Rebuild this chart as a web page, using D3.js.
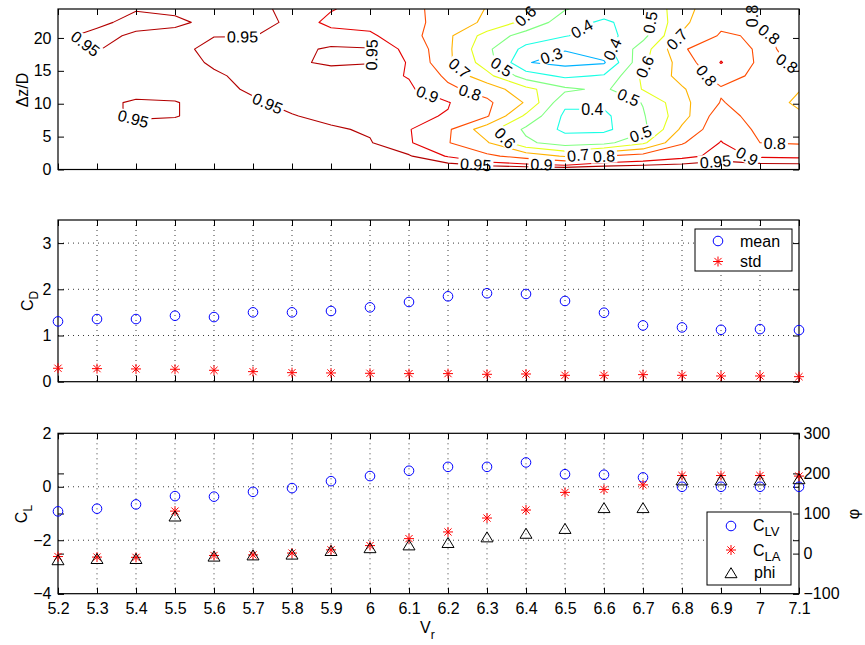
<!DOCTYPE html>
<html><head><meta charset="utf-8">
<script src="https://cdn.jsdelivr.net/npm/d3@7"></script>
<style>
body{margin:0;background:#fff;}
text{font-family:"Liberation Sans",Arial,Helvetica,sans-serif;fill:#000;}
</style></head><body>
<svg id="chart" width="865" height="645"></svg>
<script>
// ---------------- data ----------------
const vr = [5.2,5.3,5.4,5.5,5.6,5.7,5.8,5.9,6.0,6.1,6.2,6.3,6.4,6.5,6.6,6.7,6.8,6.9,7.0,7.1];
const cdMean = [1.305,1.356,1.356,1.428,1.399,1.501,1.501,1.530,1.609,1.725,1.848,1.914,1.899,1.747,1.493,1.218,1.175,1.124,1.138,1.117];
const cdStd  = [0.291,0.283,0.276,0.269,0.247,0.218,0.196,0.189,0.182,0.175,0.175,0.160,0.167,0.138,0.138,0.153,0.138,0.124,0.124,0.109];
const clv = [-0.92,-0.82,-0.66,-0.35,-0.37,-0.19,-0.05,0.21,0.40,0.60,0.745,0.745,0.91,0.47,0.45,0.35,0.0,0.0,0.0,0.0];
const cla = [-2.61,-2.63,-2.64,-0.91,-2.57,-2.55,-2.48,-2.36,-2.20,-1.94,-1.69,-1.17,-0.87,-0.21,-0.10,0.07,0.42,0.42,0.42,0.40];
const phi = [-16,-13,-13,93,-7,-4,-2,7,14,21,27,41,50,62,114,114,183,183,183,186];
// separation rows of the correlation map (dz/D), bottom to top
const dzRows = [0,2.033,4.067,6.1,8.133,10.167,12.2,14.233,16.267,18.3,20.333,22.367,24.4];
// correlation coefficient, one row per dzRows entry, one column per vr entry
const corrGrid = [
 [1,1,1,1,1,1,1,1,1,1,1,1,1,1,1,1,1,1,1,1],
 [0.965,0.965,0.965,0.965,0.965,0.965,0.965,0.965,0.96,0.955,0.895,0.82,0.76,0.69,0.80,0.84,0.88,0.92,0.89,0.885],
 [0.965,0.965,0.965,0.965,0.965,0.965,0.965,0.965,0.953,0.91,0.805,0.71,0.52,0.45,0.47,0.58,0.79,0.905,0.80,0.79],
 [0.965,0.965,0.965,0.965,0.965,0.965,0.958,0.955,0.945,0.905,0.815,0.64,0.48,0.38,0.38,0.47,0.72,0.87,0.78,0.76],
 [0.965,0.96,0.945,0.948,0.965,0.96,0.952,0.94,0.935,0.915,0.895,0.81,0.58,0.38,0.38,0.49,0.66,0.86,0.74,0.72],
 [0.965,0.96,0.945,0.948,0.965,0.955,0.94,0.935,0.935,0.92,0.905,0.82,0.69,0.42,0.42,0.505,0.67,0.805,0.76,0.68],
 [0.965,0.965,0.965,0.965,0.96,0.945,0.93,0.93,0.935,0.915,0.82,0.76,0.63,0.52,0.48,0.605,0.69,0.79,0.76,0.705],
 [0.965,0.965,0.965,0.965,0.955,0.94,0.93,0.935,0.93,0.895,0.78,0.63,0.45,0.38,0.41,0.62,0.73,0.84,0.775,0.795],
 [0.965,0.96,0.965,0.965,0.945,0.935,0.945,0.955,0.952,0.895,0.72,0.55,0.305,0.27,0.29,0.58,0.74,0.905,0.78,0.81],
 [0.965,0.948,0.965,0.96,0.94,0.935,0.94,0.955,0.953,0.88,0.72,0.52,0.37,0.305,0.36,0.55,0.79,0.86,0.785,0.82],
 [0.957,0.941,0.955,0.958,0.951,0.951,0.94,0.93,0.915,0.84,0.72,0.56,0.46,0.405,0.36,0.47,0.71,0.81,0.79,0.825],
 [0.965,0.957,0.94,0.945,0.957,0.96,0.945,0.88,0.87,0.83,0.76,0.68,0.57,0.45,0.38,0.46,0.68,0.78,0.805,0.83],
 [0.96,0.96,0.952,0.955,0.965,0.96,0.94,0.905,0.87,0.82,0.77,0.695,0.61,0.505,0.46,0.49,0.67,0.76,0.81,0.83]
];
const contourLevels = [0.3,0.4,0.5,0.6,0.7,0.8,0.9,0.95];
// inline contour labels: [level, Vr, dz/D] (approximate spots)
const contourLabels = [
 [0.95,5.262,18.5],[0.95,5.673,20.0],[0.95,6.023,17.4],[0.95,5.739,10.3],[0.95,5.393,7.7],
 [0.9,6.149,11.7],[0.6,6.415,22.8],[0.4,6.543,21.4],[0.3,6.462,17.8],[0.4,6.570,18.7],
 [0.7,6.238,16.0],[0.5,6.342,16.0],[0.8,6.26,12.4],[0.5,6.664,11.1],[0.4,6.57,8.8],
 [0.6,6.35,5.0],[0.5,6.688,6.4],[0.95,6.271,0.6],[0.9,6.44,0.9],[0.7,6.534,2.0],[0.8,6.574,1.6],
 [0.6,6.726,14.7],[0.5,6.735,22.3],[0.7,6.778,20.3],[0.8,6.859,14.1],[0.8,7.004,23.4],
 [0.8,7.021,20.4],[0.8,7.06,15.3],[0.8,7.038,4.0],[0.9,7.021,2.0],[0.95,6.886,0.9]
];
const dzTicks = [0,5,10,15,20];
const cdTicks = [0,1,2,3];
const clTicks = [-4,-2,0,2];
const phiTicks = [-100,0,100,200,300];

// ---------------- layout ----------------
const W=865,H=645, L=58, R=799;
const P1={t:9,b:169.5}, P2={t:220,b:381.7}, P3={t:433.3,b:593.7};
const FS=16;
const svg = d3.select("#chart");
svg.append("rect").attr("width",W).attr("height",H).attr("fill","#fff");
const defs = svg.append("defs");

const x  = d3.scaleLinear().domain([5.2,7.1]).range([L,R]);
const y1 = d3.scaleLinear().domain([0,24.4]).range([P1.b,P1.t]);
const y2 = d3.scaleLinear().domain([0,3.5]).range([P2.b,P2.t]);
const y3 = d3.scaleLinear().domain([-4,2]).range([P3.b,P3.t]);
const y3r= d3.scaleLinear().domain([-100,300]).range([P3.b,P3.t]);
const fmtX = d => String(+d.toFixed(1));
const fmtY = d3.format("");

function jet(t){
  const c=v=>Math.max(0,Math.min(1,v));
  const r=c(Math.min(4*t-1.5,-4*t+4.5)), g=c(Math.min(4*t-0.5,-4*t+3.5)), b=c(Math.min(4*t+0.5,-4*t+2.5));
  return d3.rgb(r*255,g*255,b*255).formatHex();
}

function styleAxis(g){
  g.select(".domain").remove();
  g.selectAll(".tick line").attr("stroke","#000").attr("stroke-width",1);
  g.selectAll(".tick text").attr("font-size",FS).attr("fill","#000")
    .attr("font-family",'"Liberation Sans",Arial,sans-serif');
}
function frame(P){
  svg.append("rect").attr("x",L).attr("y",P.t).attr("width",R-L).attr("height",P.b-P.t)
    .attr("fill","none").attr("stroke","#000").attr("stroke-width",1.2);
}
function xTicks(P, labels){
  svg.append("g").attr("transform",`translate(0,${P.b})`)
    .call(d3.axisBottom(x).tickValues(vr).tickSize(-6).tickPadding(9).tickFormat(labels?fmtX:""))
    .call(styleAxis);
  svg.append("g").attr("transform",`translate(0,${P.t})`)
    .call(d3.axisTop(x).tickValues(vr).tickSize(-6).tickFormat(""))
    .call(styleAxis);
}
function yTicks(scale, ticks, labelSide, mirror){
  if(labelSide==="left"){
    svg.append("g").attr("transform",`translate(${L},0)`)
      .call(d3.axisLeft(scale).tickValues(ticks).tickSize(-6).tickPadding(6.5).tickFormat(fmtY)).call(styleAxis);
  } else if(labelSide==="right"){
    svg.append("g").attr("transform",`translate(${R},0)`)
      .call(d3.axisRight(scale).tickValues(ticks).tickSize(-6).tickPadding(4.5).tickFormat(fmtY)).call(styleAxis);
  }
  if(mirror==="right"){
    svg.append("g").attr("transform",`translate(${R},0)`)
      .call(d3.axisRight(scale).tickValues(ticks).tickSize(-6).tickFormat("")).call(styleAxis);
  } else if(mirror==="left"){
    svg.append("g").attr("transform",`translate(${L},0)`)
      .call(d3.axisLeft(scale).tickValues(ticks).tickSize(-6).tickFormat("")).call(styleAxis);
  }
}
function grid(P, yscale, yvals){
  const g = svg.append("g").attr("stroke","#222").attr("stroke-width",0.9).attr("stroke-dasharray","1,4");
  g.selectAll("line.v").data(vr.slice(1,-1)).join("line")
    .attr("x1",d=>x(d)).attr("x2",d=>x(d)).attr("y1",P.t).attr("y2",P.b);
  g.selectAll("line.h").data(yvals).join("line")
    .attr("x1",L).attr("x2",R).attr("y1",d=>yscale(d)).attr("y2",d=>yscale(d));
}
// markers
const circle = (g, cx, cy, col) => g.append("circle").attr("cx",cx).attr("cy",cy).attr("r",4.8)
  .attr("fill","none").attr("stroke",col).attr("stroke-width",1);
function star(g, cx, cy, col){
  const s=5, d=s*0.72;
  g.append("path").attr("d",`M${cx-s},${cy}H${cx+s}M${cx},${cy-s}V${cy+s}M${cx-d},${cy-d}L${cx+d},${cy+d}M${cx-d},${cy+d}L${cx+d},${cy-d}`)
    .attr("stroke",col).attr("stroke-width",1).attr("fill","none");
}
function tri(g, cx, cy, col){
  g.append("path").attr("d",`M${cx},${cy-5.3}L${cx+6},${cy+4.7}L${cx-6},${cy+4.7}Z`)
    .attr("fill","none").attr("stroke",col).attr("stroke-width",1);
}

// ---------------- panel 1: contour map ----------------
const nx = vr.length, ny = dzRows.length;
const val = (i,k) => corrGrid[k][i];
const gxs = d3.scaleLinear().domain([0,nx-1]).range([vr[0],vr[nx-1]]);
const gys = d3.scaleLinear().domain(d3.range(ny)).range(dzRows);

function isoLines(level){
  const pts=new Map(), adj=new Map();
  function edge(id,i0,k0,i1,k1){
    if(!pts.has(id)){ const a=val(i0,k0), b=val(i1,k1), t=(level-a)/(b-a);
      pts.set(id,[i0+(i1-i0)*t, k0+(k1-k0)*t]); }
    return id;
  }
  function link(a,b){
    if(!adj.has(a)) adj.set(a,[]); if(!adj.has(b)) adj.set(b,[]);
    adj.get(a).push(b); adj.get(b).push(a);
  }
  for(let k=0;k<ny-1;k++) for(let i=0;i<nx-1;i++){
    const v00=val(i,k), v10=val(i+1,k), v11=val(i+1,k+1), v01=val(i,k+1);
    const a00=v00>=level, a10=v10>=level, a11=v11>=level, a01=v01>=level;
    const E0 = a00!==a10 ? edge(`h${i}_${k}`,i,k,i+1,k) : null;
    const E1 = a10!==a11 ? edge(`v${i+1}_${k}`,i+1,k,i+1,k+1) : null;
    const E2 = a01!==a11 ? edge(`h${i}_${k+1}`,i,k+1,i+1,k+1) : null;
    const E3 = a00!==a01 ? edge(`v${i}_${k}`,i,k,i,k+1) : null;
    const list=[E0,E1,E2,E3].filter(d=>d);
    if(list.length===2) link(list[0],list[1]);
    else if(list.length===4){
      const c=(v00+v10+v11+v01)/4>=level;
      if(c===a00){ link(E0,E1); link(E2,E3); } else { link(E3,E0); link(E1,E2); }
    }
  }
  const used=new Set(), lines=[];
  function walk(start){
    const line=[start]; used.add(start); let cur=start;
    while(true){
      const all=adj.get(cur)||[];
      const nb=all.filter(n=>!used.has(n));
      if(!nb.length){ if(line.length>2 && all.includes(start)) line.push(start); break; }
      cur=nb[0]; used.add(cur); line.push(cur);
    }
    return line.map(id=>pts.get(id));
  }
  for(const [id,n] of adj) if(n.length===1 && !used.has(id)) lines.push(walk(id));
  for(const [id] of adj) if(!used.has(id)) lines.push(walk(id));
  return lines.map(l=>l.map(p=>[x(gxs(p[0])), y1(gys(p[1]))]));
}

defs.append("clipPath").attr("id","clip1").append("rect")
  .attr("x",L).attr("y",P1.t).attr("width",R-L).attr("height",P1.b-P1.t);
const mask = defs.append("mask").attr("id","lblmask").attr("maskUnits","userSpaceOnUse")
  .attr("x",0).attr("y",0).attr("width",W).attr("height",H);
mask.append("rect").attr("x",0).attr("y",0).attr("width",W).attr("height",H).attr("fill","#fff");

const cWrap = svg.append("g").attr("clip-path","url(#clip1)");
const cLines = cWrap.append("g").attr("mask","url(#lblmask)");
const lineGen = d3.line();
const isoByLevel = new Map();
contourLevels.forEach(lev=>{
  const lines = isoLines(lev);
  isoByLevel.set(lev, lines);
  cLines.selectAll(null).data(lines).join("path")
    .attr("d",d=>lineGen(d)).attr("fill","none").attr("stroke",jet(lev)).attr("stroke-width",1.1)
    .attr("stroke-linejoin","round");
});
const cLabels = svg.append("g");
const placed = [];
contourLabels.forEach(([lev,lx,ldz])=>{
  const tx=x(lx), ty=y1(ldz);
  let best=null;
  (isoByLevel.get(lev)||[]).forEach(pl=>{
    for(let j=0;j<pl.length-1;j++){
      const a=pl[j], b=pl[j+1], dx=b[0]-a[0], dy=b[1]-a[1];
      const L2=dx*dx+dy*dy||1e-9;
      let t=((tx-a[0])*dx+(ty-a[1])*dy)/L2; t=Math.max(0,Math.min(1,t));
      const px=a[0]+t*dx, py=a[1]+t*dy, d=Math.hypot(px-tx,py-ty);
      const free = placed.every(q=>Math.hypot(q[0]-px,q[1]-py)>22);
      if(free && (!best||d<best.d)){
        let ang;
        if(Math.sqrt(L2)>9) ang=Math.atan2(dy,dx);
        else { const p0=pl[Math.max(0,j-1)], p1=pl[Math.min(pl.length-1,j+2)]; ang=Math.atan2(p1[1]-p0[1],p1[0]-p0[0]); }
        best={d,px,py,ang:ang*180/Math.PI};
      }
    }
  });
  let px=tx, py=ty, ang=0;
  if(best && best.d<30){ px=best.px; py=best.py; ang=best.ang; }
  if(ang>90) ang-=180; if(ang<-90) ang+=180;
  px=Math.max(L+12,Math.min(R-12,px)); py=Math.max(P1.t+7,Math.min(P1.b-5,py));
  placed.push([px,py]);
  const t = cLabels.append("text").attr("transform",`translate(${px},${py}) rotate(${ang})`)
    .attr("text-anchor","middle").attr("dy","0.36em").attr("font-size",FS).text(String(lev));
  const w = t.node().getComputedTextLength()+4;
  mask.append("rect").attr("x",-w/2).attr("y",-7).attr("width",w).attr("height",14)
    .attr("transform",`translate(${px},${py}) rotate(${ang})`).attr("fill","#000");
});
frame(P1);
xTicks(P1,false);
yTicks(y1, dzTicks, "left", "right");
svg.append("text").attr("transform","translate(28,90) rotate(-90)").attr("text-anchor","middle")
  .attr("font-size",FS).text("\u0394z/D");

// ---------------- panel 2: drag ----------------
grid(P2, y2, [1,2,3]);
frame(P2);
xTicks(P2,false);
yTicks(y2, cdTicks, "left", "right");
const m2 = svg.append("g");
vr.forEach((v,i)=>circle(m2, x(v), y2(cdMean[i]), "#0000ff"));
vr.forEach((v,i)=>star(m2, x(v), y2(cdStd[i]), "#ff0000"));
const cdl = svg.append("text").attr("transform","translate(33,301) rotate(-90)").attr("text-anchor","middle").attr("font-size",FS);
cdl.append("tspan").text("C");
cdl.append("tspan").attr("dy",5).attr("font-size",12).text("D");
// legend
const lg2 = svg.append("g");
lg2.append("rect").attr("x",695).attr("y",229).attr("width",97).attr("height",42)
  .attr("fill","#fff").attr("stroke","#000").attr("stroke-width",1);
circle(lg2, 718, 241, "#0000ff");
star(lg2, 718, 261.5, "#ff0000");
lg2.append("text").attr("x",740).attr("y",246.5).attr("font-size",FS).text("mean");
lg2.append("text").attr("x",740).attr("y",267).attr("font-size",FS).text("std");

// ---------------- panel 3: lift ----------------
grid(P3, y3, [-2,0]);
frame(P3);
xTicks(P3,true);
yTicks(y3, clTicks, "left", "right");
yTicks(y3r, phiTicks, "right", "left");
const m3 = svg.append("g");
vr.forEach((v,i)=>circle(m3, x(v), y3(clv[i]), "#0000ff"));
vr.forEach((v,i)=>star(m3, x(v), y3(cla[i]), "#ff0000"));
vr.forEach((v,i)=>tri(m3, x(v), y3r(phi[i]), "#000"));
const cll = svg.append("text").attr("transform","translate(27,514) rotate(-90)").attr("text-anchor","middle").attr("font-size",FS);
cll.append("tspan").text("C");
cll.append("tspan").attr("dy",5).attr("font-size",12).text("L");
svg.append("text").attr("transform","translate(859,514) rotate(-90)").attr("text-anchor","middle")
  .attr("font-size",FS).text("\u03c6");
const xl = svg.append("text").attr("x",420).attr("y",633).attr("font-size",FS);
xl.append("tspan").text("V");
xl.append("tspan").attr("dy",6).attr("font-size",12).text("r");
// legend
const lg3 = svg.append("g");
lg3.append("rect").attr("x",707).attr("y",512).attr("width",84).attr("height",73)
  .attr("fill","#fff").attr("stroke","#000").attr("stroke-width",1);
circle(lg3, 731, 526, "#0000ff");
star(lg3, 731, 550, "#ff0000");
tri(lg3, 731, 573, "#000");
const t1 = lg3.append("text").attr("x",753).attr("y",531).attr("font-size",FS);
t1.append("tspan").text("C"); t1.append("tspan").attr("dy",5).attr("font-size",13).text("LV");
const t2 = lg3.append("text").attr("x",753).attr("y",556).attr("font-size",FS);
t2.append("tspan").text("C"); t2.append("tspan").attr("dy",5).attr("font-size",13).text("LA");
lg3.append("text").attr("x",754).attr("y",578).attr("font-size",FS).text("phi");
</script>
</body></html>
